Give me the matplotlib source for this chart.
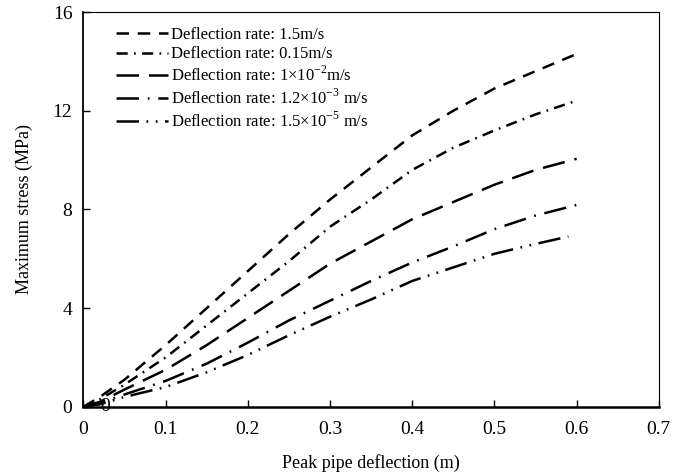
import matplotlib.pyplot as plt

# Datos
deflexion = [0, 0.02, 0.05, 0.1, 0.15, 0.2, 0.25, 0.3, 0.35, 0.4, 0.45, 0.5, 0.55, 0.6]
deflexion_b = [0, 0.02, 0.05, 0.1, 0.15, 0.2, 0.25, 0.3, 0.35, 0.4, 0.45, 0.5, 0.55, 0.595]
deflexion_c = [0, 0.02, 0.05, 0.1, 0.15, 0.2, 0.25, 0.3, 0.35, 0.4, 0.45, 0.5, 0.55, 0.59]

s_15 = [0, 0.4, 1.1, 2.5, 4.0, 5.5, 7.0, 8.4, 9.7, 11.0, 12.0, 12.9, 13.6, 14.3]
s_015 = [0, 0.3, 0.9, 2.0, 3.3, 4.6, 5.9, 7.3, 8.4, 9.6, 10.5, 11.2, 11.85, 12.35]
s_1e2 = [0, 0.2, 0.7, 1.5, 2.5, 3.6, 4.7, 5.8, 6.7, 7.6, 8.3, 9.0, 9.6, 10.05]
s_12e3 = [0, 0.15, 0.5, 1.05, 1.75, 2.6, 3.5, 4.3, 5.1, 5.85, 6.5, 7.2, 7.75, 8.18]
s_15e5 = [0, 0.1, 0.4, 0.8, 1.4, 2.1, 2.9, 3.65, 4.35, 5.1, 5.65, 6.2, 6.6, 6.9]

etiquetas = ['Deflection rate: 1.5m/s',
             'Deflection rate: 0.15m/s',
             'Deflection rate: 1\u00d710$^{\u22122}$m/s',
             'Deflection rate: 1.2\u00d710$^{\u22123}$ m/s',
             'Deflection rate: 1.5\u00d710$^{\u22125}$ m/s']

plt.rcParams['font.family'] = ['Liberation Serif', 'DejaVu Serif']
plt.rcParams['mathtext.fontset'] = 'custom'
plt.rcParams['mathtext.rm'] = 'Liberation Serif'

fig = plt.figure(figsize=(6.87, 4.73), dpi=100)
ax = fig.add_axes([0.1215, 0.14, 0.8375, 0.8346])

lw = 1.8
ax.plot(deflexion, s_15, color='black', lw=lw, dashes=(5, 3.5), label=etiquetas[0])
ax.plot(deflexion_b, s_015, color='black', lw=lw, dashes=(4.5, 2.5, 0.7, 2.5), label=etiquetas[1])
ax.plot(deflexion, s_1e2, color='black', lw=lw, dashes=(9, 4), label=etiquetas[2])
ax.plot(deflexion, s_12e3, color='black', lw=lw, dashes=(9, 3.5, 0.7, 3.5), label=etiquetas[3])
ax.plot(deflexion_c, s_15e5, color='black', lw=lw, dashes=(9, 3, 0.7, 3, 0.7, 3), label=etiquetas[4])

ax.text(0.026, 0, '0', fontsize=14, ha='center', va='center')

ax.set_xlim(0, 0.7)
ax.set_ylim(0, 16)
ax.set_xticks([0, 0.1, 0.2, 0.3, 0.4, 0.5, 0.6, 0.7])
ax.set_xticklabels(['0', '0.1', '0.2', '0.3', '0.4', '0.5', '0.6', '0.7'])
ax.set_yticks([0, 4, 8, 12, 16])
ax.tick_params(axis='x', direction='in', length=5, width=1, labelsize=14, pad=10)
ax.tick_params(axis='y', direction='in', length=5, width=1, labelsize=14, pad=8)

ax.spines['bottom'].set_linewidth(1.8)
ax.spines['left'].set_linewidth(1.3)
ax.spines['top'].set_linewidth(0.8)
ax.spines['right'].set_linewidth(0.8)

ax.set_xlabel('Peak pipe deflection (m)', fontsize=13, labelpad=12)
ax.set_ylabel('Maximum stress (MPa)', fontsize=13, labelpad=14)

ax.legend(loc='upper left', bbox_to_anchor=(0.037, 0.992), frameon=False, fontsize=12,
          handlelength=3.1, handletextpad=0.15, labelspacing=0.21, borderaxespad=0.3)

plt.savefig('out.png', dpi=100)
